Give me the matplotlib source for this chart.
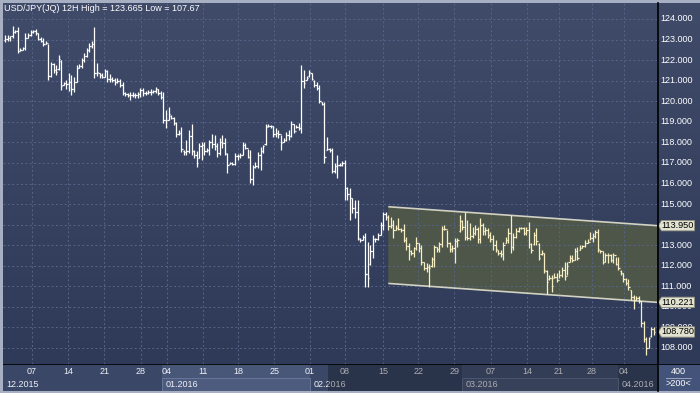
import numpy as np
import matplotlib.pyplot as plt
from matplotlib.collections import LineCollection
from matplotlib.patches import Polygon, Rectangle
from matplotlib.colors import LinearSegmentedColormap
from matplotlib.lines import Line2D

plt.rcParams['font.family'] = ['Liberation Sans', 'DejaVu Sans']

title = 'USD/JPY(JQ) 12H High = 123.665 Low = 107.67'

# 12H OHLC bars
opens = [
    123.00, 123.05, 123.10, 123.15, 123.35, 123.40, 122.45, 122.50, 122.60, 123.10,
    123.20, 123.35, 123.40, 123.30, 123.05, 122.95, 122.80, 122.85, 121.25, 121.80,
    121.50, 121.55, 121.98, 120.80, 120.90, 120.85, 120.95, 120.60, 120.95, 121.60,
    121.70, 122.00, 122.20, 122.50, 122.70, 122.80, 121.35, 121.35, 121.30, 121.20,
    121.45, 121.10, 121.10, 121.05, 120.95, 121.00, 120.80, 120.40, 120.35, 120.30,
    120.30, 120.30, 120.30, 120.35, 120.55, 120.40, 120.40, 120.45, 120.45, 120.50,
    120.60, 120.40, 120.20, 119.10, 119.10, 119.30, 119.20, 118.95, 118.40, 118.45,
    117.60, 117.55, 117.60, 118.30, 117.60, 117.40, 117.25, 117.80, 117.85, 117.60,
    117.65, 118.00, 117.90, 117.80, 117.50, 118.00, 117.95, 117.45, 116.95, 117.00,
    116.95, 117.35, 117.35, 117.40, 117.85, 117.75, 117.30, 116.20, 116.80, 116.85,
    117.40, 117.60, 117.90, 118.78, 118.82, 118.80, 118.40, 118.45, 118.40, 118.02,
    118.10, 118.35, 118.30, 118.90, 118.55, 118.75, 118.70, 121.00, 121.05, 121.22,
    121.35, 121.00, 120.80, 120.65, 119.95, 119.88, 117.65, 117.70, 117.65, 116.60,
    116.85, 116.90, 116.90, 117.00, 115.80, 115.50, 115.28, 114.80, 114.60, 113.30,
    113.25, 113.40, 111.60, 112.10, 112.70, 113.30, 113.28, 113.50, 114.00, 114.50,
    114.35, 113.95, 114.00, 113.75, 113.85, 113.80, 113.75, 113.25, 112.95, 112.70,
    112.60, 112.85, 113.10, 112.85, 112.20, 111.90, 111.95, 112.00, 112.35, 112.90,
    112.80, 113.05, 113.80, 113.80, 113.10, 112.80, 112.85, 113.20, 113.70, 114.20,
    113.90, 113.40, 113.35, 113.45, 113.60, 113.80, 113.30, 114.00, 113.70, 113.75,
    113.50, 113.30, 113.00, 112.75, 112.60, 112.55, 113.10, 113.25, 113.60, 112.90,
    113.40, 113.70, 113.85, 113.82, 113.60, 113.75, 113.05, 113.05, 113.50, 113.05,
    112.55, 112.60, 111.75, 111.35, 111.40, 111.40, 111.45, 111.30, 111.55, 111.80,
    111.50, 112.20, 112.40, 112.30, 112.70, 112.78, 112.88, 112.95, 113.10, 113.15,
    113.35, 113.45, 113.65, 112.75, 112.70, 112.20, 112.50, 112.50, 112.30, 112.50,
    112.10, 111.75, 111.65, 111.35, 111.15, 110.80, 110.50, 110.35, 110.45, 110.30,
    109.20, 108.45, 108.00, 108.58, 108.90]
highs = [
    123.22, 123.22, 123.18, 123.665, 123.47, 123.63, 122.57, 122.66, 123.30, 123.31,
    123.47, 123.47, 123.52, 123.31, 123.14, 123.06, 122.93, 122.77, 121.93, 121.85,
    121.76, 122.25, 122.00, 120.95, 121.03, 121.36, 121.28, 121.20, 121.76, 121.80,
    122.12, 122.33, 122.57, 122.82, 122.93, 123.63, 121.85, 121.36, 121.36, 121.55,
    121.52, 121.32, 121.20, 121.15, 121.15, 121.07, 120.95, 120.47, 120.38, 120.43,
    120.43, 120.38, 120.43, 120.66, 120.63, 120.50, 120.55, 120.60, 120.55, 120.71,
    120.60, 120.50, 120.47, 119.57, 119.74, 119.33, 119.25, 119.01, 118.60, 118.76,
    117.63, 118.12, 118.60, 118.88, 117.63, 117.58, 117.95, 118.03, 118.03, 117.71,
    118.12, 118.39, 118.36, 117.95, 118.20, 118.36, 118.20, 117.47, 117.06, 117.06,
    117.47, 117.42, 117.47, 118.00, 117.95, 117.66, 117.63, 116.90, 117.06, 117.55,
    117.79, 117.87, 118.88, 118.88, 118.85, 118.81, 118.72, 118.60, 118.36, 118.20,
    118.52, 118.60, 119.04, 118.88, 118.85, 118.93, 121.76, 121.52, 121.24, 121.52,
    121.36, 121.03, 120.95, 120.79, 119.98, 119.95, 118.28, 117.71, 117.71, 116.98,
    117.39, 117.01, 117.10, 117.14, 115.85, 115.76, 115.28, 115.20, 115.20, 113.33,
    113.50, 113.58, 113.17, 113.01, 113.50, 113.33, 113.58, 114.14, 114.63, 114.63,
    114.47, 114.39, 114.23, 113.98, 114.31, 113.82, 114.03, 113.38, 113.09, 112.77,
    112.93, 113.38, 113.09, 113.01, 112.20, 112.12, 112.08, 112.44, 113.01, 112.93,
    113.17, 113.93, 113.98, 113.74, 113.17, 113.01, 113.33, 113.33, 114.47, 114.23,
    114.63, 114.23, 114.06, 113.90, 113.98, 113.90, 114.31, 114.06, 113.90, 113.82,
    113.66, 113.50, 113.25, 112.77, 112.77, 113.17, 113.41, 113.82, 114.47, 113.58,
    113.82, 113.90, 113.87, 113.90, 113.87, 114.14, 113.09, 113.66, 113.82, 113.09,
    112.77, 112.60, 111.79, 111.55, 111.55, 111.63, 111.63, 111.79, 111.95, 112.19,
    112.19, 112.52, 112.52, 112.85, 112.93, 113.01, 113.01, 113.25, 113.28, 113.66,
    113.58, 113.74, 113.77, 112.77, 112.73, 112.60, 112.60, 112.57, 112.60, 112.44,
    112.44, 111.79, 111.63, 111.38, 111.34, 110.82, 110.57, 110.52, 110.52, 110.30,
    109.30, 108.55, 108.55, 109.03, 109.03]
lows = [
    122.90, 122.95, 122.95, 123.06, 123.30, 122.33, 122.45, 122.49, 122.49, 123.10,
    123.18, 123.30, 123.22, 122.98, 122.86, 122.70, 122.77, 121.03, 121.20, 121.36,
    121.28, 121.52, 120.55, 120.79, 120.60, 120.50, 120.30, 120.45, 120.95, 121.60,
    121.63, 121.90, 122.17, 122.41, 122.57, 121.12, 121.25, 121.15, 121.12, 121.20,
    120.95, 120.95, 120.95, 120.79, 120.87, 120.71, 120.30, 120.27, 120.22, 120.06,
    120.22, 120.17, 120.14, 120.22, 120.27, 120.30, 120.33, 120.30, 120.38, 120.38,
    120.30, 120.11, 118.93, 118.68, 119.09, 119.14, 118.85, 118.28, 118.36, 117.55,
    117.39, 117.39, 117.47, 117.39, 117.22, 116.82, 117.22, 117.14, 117.39, 117.55,
    117.39, 117.71, 117.63, 117.30, 117.39, 117.71, 117.39, 116.49, 116.93, 116.90,
    116.90, 117.14, 117.22, 117.39, 117.68, 117.22, 116.01, 115.93, 116.74, 116.74,
    116.66, 117.47, 117.87, 118.76, 118.72, 118.28, 118.28, 118.23, 117.63, 118.00,
    118.07, 118.12, 118.28, 118.44, 118.68, 118.60, 118.44, 120.63, 121.03, 121.20,
    121.03, 120.71, 120.55, 119.90, 119.82, 116.98, 117.63, 117.55, 116.49, 116.53,
    116.25, 116.85, 116.85, 115.20, 115.20, 114.23, 114.55, 114.31, 113.25, 113.17,
    113.25, 110.98, 110.98, 112.04, 112.36, 113.17, 113.25, 113.50, 113.74, 114.23,
    113.74, 113.82, 113.33, 113.74, 113.74, 113.66, 113.17, 112.77, 112.28, 112.52,
    112.44, 112.77, 112.68, 112.04, 111.79, 111.71, 110.98, 111.96, 111.96, 112.68,
    112.68, 112.93, 113.74, 112.93, 112.68, 112.68, 112.12, 112.93, 113.66, 113.74,
    113.25, 113.25, 113.25, 113.33, 113.50, 113.09, 113.09, 113.50, 113.50, 113.33,
    113.17, 112.77, 112.68, 112.52, 112.44, 112.28, 113.09, 113.09, 112.60, 112.77,
    113.33, 113.66, 113.77, 113.49, 113.49, 112.85, 112.60, 113.01, 113.01, 112.28,
    112.52, 111.63, 110.65, 111.31, 110.74, 111.38, 111.22, 111.38, 111.47, 111.31,
    111.55, 112.19, 112.19, 112.28, 112.28, 112.77, 112.85, 112.93, 113.09, 113.25,
    113.17, 113.33, 112.68, 112.60, 112.08, 112.19, 112.11, 112.19, 112.11, 112.03,
    111.79, 111.55, 111.22, 111.06, 110.82, 110.33, 109.92, 110.33, 110.17, 109.03,
    108.30, 107.67, 107.98, 108.55, 108.63]
closes = [
    123.05, 123.10, 123.15, 123.35, 123.40, 122.45, 122.50, 122.60, 123.10, 123.20,
    123.35, 123.40, 123.30, 123.05, 122.95, 122.80, 122.85, 121.25, 121.80, 121.50,
    121.40, 122.05, 120.75, 120.90, 120.85, 120.95, 120.60, 120.95, 121.60, 121.70,
    122.00, 122.20, 122.50, 122.70, 122.80, 121.35, 121.40, 121.30, 121.20, 121.45,
    121.10, 121.10, 121.05, 120.95, 121.00, 120.80, 120.40, 120.35, 120.30, 120.30,
    120.30, 120.30, 120.35, 120.55, 120.40, 120.40, 120.45, 120.45, 120.50, 120.60,
    120.40, 120.20, 119.10, 119.10, 119.40, 119.20, 118.95, 118.40, 118.45, 117.70,
    117.55, 117.60, 118.30, 117.60, 117.40, 117.00, 117.80, 117.85, 117.60, 117.65,
    118.00, 117.90, 117.80, 117.50, 118.00, 117.95, 117.50, 116.90, 117.00, 116.95,
    117.35, 117.35, 117.40, 117.85, 117.75, 117.30, 116.20, 116.80, 116.85, 117.40,
    117.60, 117.80, 118.75, 118.82, 118.80, 118.40, 118.45, 118.40, 117.95, 118.10,
    118.35, 118.30, 118.90, 118.55, 118.75, 118.70, 121.00, 120.90, 121.15, 121.40,
    121.10, 120.80, 120.65, 120.00, 119.88, 117.30, 117.70, 117.65, 116.60, 116.85,
    116.90, 116.90, 117.00, 115.80, 115.50, 115.28, 114.80, 114.60, 113.35, 113.25,
    113.40, 111.60, 111.40, 112.70, 113.30, 113.28, 113.50, 114.00, 114.50, 114.35,
    113.95, 114.00, 113.75, 113.85, 113.80, 113.75, 113.25, 112.95, 112.70, 112.60,
    112.85, 113.10, 112.85, 112.20, 111.90, 111.95, 111.90, 112.35, 112.90, 112.80,
    113.05, 113.80, 113.80, 113.10, 112.80, 112.85, 113.20, 113.25, 114.20, 113.90,
    113.40, 113.35, 113.45, 113.60, 113.80, 113.30, 114.00, 113.70, 113.75, 113.50,
    113.30, 113.00, 112.80, 112.60, 112.55, 113.00, 113.25, 113.60, 112.90, 113.40,
    113.70, 113.85, 113.82, 113.60, 113.75, 113.05, 112.75, 113.50, 113.20, 112.40,
    112.60, 111.80, 111.20, 111.40, 111.00, 111.45, 111.30, 111.55, 111.80, 111.50,
    112.00, 112.40, 112.30, 112.70, 112.40, 112.88, 112.95, 113.10, 113.15, 113.35,
    113.45, 113.65, 112.80, 112.70, 112.20, 112.50, 112.50, 112.30, 112.50, 112.10,
    111.90, 111.65, 111.35, 111.15, 110.95, 110.50, 110.35, 110.45, 110.30, 109.20,
    108.45, 108.00, 108.50, 108.90, 108.78]

price_ticks = list(range(108, 125))
week_labels = ['07', '14', '21', '28', '04', '11', '18', '25', '01',
               '08', '15', '22', '29', '07', '14', '21', '28', '04']
month_labels = ['12.2015', '01.2016', '02.2016', '03.2016', '04.2016']

# drawn trend channel (first bar, value at first bar, value at right edge)
channel_start = 150
channel_upper = (114.87, 113.95)
channel_lower = (111.14, 110.221)
last_price = 108.780

# ---- layout (pixels of the 700x393 picture) ----
W, H = 700, 393
week_px = [31.7, 68.3, 104.3, 140.7, 166.7, 202.7, 238.3, 274.3, 310.0,
           344.5, 383.3, 418.3, 454.3, 490.7, 527.3, 559.0, 591.7, 624.0]
month_px = [3, 162.3, 310, 462, 618, 657]

fig = plt.figure(figsize=(W / 100, H / 100), dpi=100)
fig.patch.set_facecolor('#a7b0c3')


def px_axes(x0, y0, x1, y1):
    a = fig.add_axes([x0 / W, 1 - y1 / H, (x1 - x0) / W, (y1 - y0) / H])
    a.set_axis_off()
    return a


n = len(closes)
step = (654 - 5) / (n - 1)


def px2bar(px):
    return (px - 5) / step


xmin, xmax = px2bar(3), px2bar(657)
ppu = (348 - 19) / 16.0
ytop = 124 + (19 - 3) / ppu
ybot = 108 - (364 - 348) / ppu

bg = LinearSegmentedColormap.from_list('bg', ['#2e3a57', '#3f4b69'])
grad = np.linspace(1, 0, 64)[:, None]
grid_c = '#56648a'

ax = px_axes(3, 3, 657, 364)
ax.imshow(grad, extent=[xmin, xmax, ybot, ytop], aspect='auto', cmap=bg,
          zorder=0, interpolation='bilinear')
ax.set_xlim(xmin, xmax)
ax.set_ylim(ybot, ytop)

for p in price_ticks:
    ax.axhline(p, color=grid_c, lw=0.7, ls=(0, (2, 2.5)), zorder=1)
for px in week_px:
    ax.axvline(px2bar(px), color=grid_c, lw=0.7, ls=(0, (2, 2.5)), zorder=1)

# channel
ax.add_patch(Polygon([(channel_start, channel_upper[0]), (xmax, channel_upper[1]),
                      (xmax, channel_lower[1]), (channel_start, channel_lower[0])],
                     closed=True, fc='#4d5649', ec='none', zorder=0.8))
for a, b in (channel_upper, channel_lower):
    ax.plot([channel_start, xmax], [a, b], color='#d2d2c2', lw=1.2, zorder=2,
            solid_capstyle='butt')

# bars
segs, cols = [], []
for i in range(n):
    segs.append([(i, lows[i]), (i, highs[i])])
    segs.append([(i - 0.5, opens[i]), (i, opens[i])])
    segs.append([(i, closes[i]), (i + 0.5, closes[i])])
    cols += ['#f7efc2' if i >= channel_start else '#ffffff'] * 3
ax.add_collection(LineCollection(segs, colors=cols, linewidths=0.9, zorder=3))

fig.text(4.5 / W, 1 - 8.5 / H, title, color='white', fontsize=6.5,
         ha='left', va='center')

# right price scale, with tags drawn over it
rax = px_axes(657, 3, 700, 364)
rax.imshow(grad, extent=[0, 43, ybot, ytop], aspect='auto', cmap=bg, zorder=0)
rax.set_xlim(0, 43)
rax.set_ylim(ybot, ytop)
h = 5.2 / ppu
half = 3.6 / ppu
tags = [channel_upper[1], channel_lower[1], last_price]
for p in price_ticks:
    lo_vis, hi_vis = p - half, p + half
    for v in tags:
        if v - h <= lo_vis and hi_vis <= v + h:
            lo_vis = hi_vis  # fully hidden behind a tag
        elif v - h < hi_vis <= v + h:
            hi_vis = v - h
        elif v - h <= lo_vis < v + h:
            lo_vis = v + h
    if hi_vis - lo_vis <= 0:
        continue
    t = rax.text(3, p, f'{p:.3f}', color='white', fontsize=6.5, ha='left',
                 va='center', zorder=2)
    if hi_vis - lo_vis < 2 * half - 1e-9:
        clip = Rectangle((0, lo_vis), 43, hi_vis - lo_vis, transform=rax.transData)
        t.set_clip_path(clip)
for v in tags:
    rax.add_patch(Polygon([(1.5, v), (4.5, v + h), (37.5, v + h), (37.5, v - h),
                           (4.5, v - h)], closed=True, fc='#e2e2d0', ec='#8f8f80',
                          lw=0.6, zorder=5))
    rax.text(21, v, f'{v:.3f}', color='black', fontsize=6.6, ha='center',
             va='center', zorder=6)

# date scale
dax = px_axes(3, 364, 657, 391)
dax.set_xlim(xmin, xmax)
dax.set_ylim(0, 27)
dax.add_patch(Rectangle((xmin, 0), xmax - xmin, 27, fc='#3a4767', ec='none', zorder=0))
for k in range(len(month_labels)):
    x0, x1 = px2bar(month_px[k]), px2bar(month_px[k + 1])
    if k % 2 == 1:
        dax.add_patch(Rectangle((x0, 0), x1 - x0, 27, fc='#485678', ec='none', zorder=0.5))
        dax.add_patch(Rectangle((x0, 0.3), x1 - x0, 12.7, fc='#4d5b7e', ec='#66759a',
                                lw=0.7, zorder=0.6))
    dax.text(px2bar(month_px[k] + 3.5), 6.5, month_labels[k], color='#eef0f6',
             fontsize=6.5, ha='left', va='center', zorder=2)
for px, lab in zip(week_px, week_labels):
    dax.text(px2bar(px), 19.5, lab, color='#eef0f6', fontsize=6.5,
             ha='center', va='center', zorder=2)
dax.add_patch(Rectangle((px2bar(328), 0), xmax - px2bar(328), 27, fc='black',
                        alpha=0.28, ec='none', zorder=5))
dax.axhline(26.6, color='black', lw=1.2, zorder=6)

# corner box
cax = px_axes(657, 364, 700, 391)
cax.set_xlim(0, 1)
cax.set_ylim(0, 1)
cax.add_patch(Rectangle((0, 0), 1, 1, fc='#44537a', ec='none'))
cax.text(0.5, 0.72, '400', color='white', fontsize=6.5, ha='center', va='center')
cax.plot([0.22, 0.78], [0.5, 0.5], color='#9aa4bf', lw=0.7)
cax.text(0.5, 0.26, '>200<', color='white', fontsize=6.5, ha='center', va='center')
cax.axhline(0.985, color='black', lw=1.2)

fig.add_artist(Line2D([657.5 / W] * 2, [1 - 3 / H, 1 - 391 / H], color='black', lw=1.2))

fig.savefig('out.png', dpi=100, facecolor=fig.get_facecolor())
